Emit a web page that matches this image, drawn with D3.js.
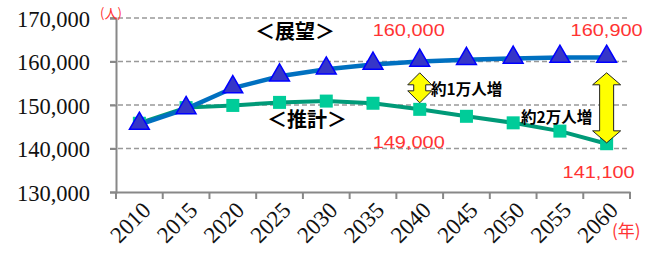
<!DOCTYPE html>
<html>
<head>
<meta charset="UTF-8">
<title>人口の展望と推計</title>
<script src="https://d3js.org/d3.v7.min.js"></script>
<style>
  body { margin: 0; background: #fff; }
  svg { display: block; }
</style>
</head>
<body>
<script>
// data
var years = ["2010","2015","2020","2025","2030","2035","2040","2045","2050","2055","2060"];
var outlook = [145500,149100,153900,156600,158200,159300,160000,160400,160700,160900,160900];   // 展望
var estimate = [145800,149400,149900,150600,150900,150400,149000,147400,145900,144000,141100]; // 推計
var yTicks = [130000,140000,150000,160000,170000];

// labels placed on points: [year, value text, x px offset, baseline]
var redLabels = [
  {year: "2040", text: "160,000", dx: -47, y: 36},
  {year: "2060", text: "160,900", dx: -36, y: 36},
  {year: "2040", text: "149,000", dx: -47, y: 148},
  {year: "2060", text: "141,100", dx: -44, y: 178}
];
// double arrows: year, from value, to value
var arrows = [
  {year: "2040", from: 157400, to: 150500, w: 24, head: 12, shaft: 12},
  {year: "2060", from: 157400, to: 141300, w: 28, head: 12, shaft: 14}
];

var W = 659, H = 257;
var svg = d3.select("body").append("svg").attr("width", W).attr("height", H);

var x = d3.scaleBand().domain(years).range([116, 630]);
var y = d3.scaleLinear().domain([130000, 170000]).range([192, 18]);
var cx = function(d) { return x(d) + x.bandwidth() / 2; };

// grid
svg.append("g").selectAll("line").data(yTicks.slice(1)).enter().append("line")
  .attr("x1", 110).attr("x2", 630)
  .attr("y1", function(d) { return y(d); }).attr("y2", function(d) { return y(d); })
  .attr("stroke", "#999").attr("stroke-width", 1.5).attr("stroke-dasharray", "5,3");

// y axis
var yAxis = d3.axisLeft(y).tickValues(yTicks).tickSize(6).tickFormat(d3.format(","));
var gy = svg.append("g").attr("transform", "translate(116,0)").call(yAxis);
gy.select(".domain").attr("stroke", "#888").attr("stroke-width", 2);
gy.selectAll(".tick line").attr("stroke", "#888").attr("stroke-width", 2);
gy.selectAll(".tick text")
  .attr("x", -26).attr("dy", "0.36em")
  .attr("fill", "#111")
  .style("font-family", "'Liberation Serif', 'Times New Roman', serif")
  .style("font-size", "22.5px");

// x axis
var xAxis = d3.axisBottom(x).tickSize(0);
var gx = svg.append("g").attr("transform", "translate(0,192)").call(xAxis);
gx.select(".domain").attr("stroke", "#888").attr("stroke-width", 2);
gx.selectAll(".tick text")
  .attr("text-anchor", "end")
  .attr("transform", "translate(7,14) rotate(-45)")
  .attr("x", 0).attr("y", 0).attr("dy", "0.35em")
  .attr("fill", "#111")
  .style("font-family", "'Liberation Serif', 'Times New Roman', serif")
  .style("font-size", "23px");
// ticks at band edges
svg.append("g").selectAll("line").data(years.concat(["end"])).enter().append("line")
  .attr("x1", function(d, i) { return i < years.length ? x(d) : x.range()[1]; })
  .attr("x2", function(d, i) { return i < years.length ? x(d) : x.range()[1]; })
  .attr("y1", 192).attr("y2", 199)
  .attr("stroke", "#888").attr("stroke-width", 2);

// lines
var line = d3.line().x(function(d, i) { return cx(years[i]); }).y(function(d) { return y(d); });

svg.append("path").attr("d", line(estimate))
  .attr("fill", "none").attr("stroke", "#009a78").attr("stroke-width", 4);
svg.append("g").selectAll("rect").data(estimate).enter().append("rect")
  .attr("x", function(d, i) { return cx(years[i]) - 6.5; })
  .attr("y", function(d) { return y(d) - 6.5; })
  .attr("width", 13).attr("height", 13)
  .attr("fill", "#00cc99");

svg.append("path").attr("d", line(outlook))
  .attr("fill", "none").attr("stroke", "#0070c0").attr("stroke-width", 4.5);
var tri = d3.symbol().type(d3.symbolTriangle).size(170);
svg.append("g").selectAll("path").data(outlook).enter().append("path")
  .attr("d", tri)
  .attr("transform", function(d, i) { return "translate(" + cx(years[i]) + "," + (y(d) - 1) + ")"; })
  .attr("fill", "#3636c8").attr("stroke", "#0000ff").attr("stroke-width", 1.5);

// double arrows
arrows.forEach(function(a) {
  var xc = cx(a.year), t = y(a.from), b = y(a.to), hw = a.w / 2, sw = a.shaft / 2;
  var p = [
    [xc, t], [xc + hw, t + a.head], [xc + sw, t + a.head], [xc + sw, b - a.head],
    [xc + hw, b - a.head], [xc, b], [xc - hw, b - a.head], [xc - sw, b - a.head],
    [xc - sw, t + a.head], [xc - hw, t + a.head]
  ];
  svg.append("path").attr("d", d3.line()(p) + "Z")
    .attr("fill", "#ffff00").attr("stroke", "#222").attr("stroke-width", 1);
});

var jp = "'Noto Sans CJK JP', 'Noto Sans', sans-serif";

// series names
svg.append("text").attr("x", 295).attr("y", 39).attr("text-anchor", "middle")
  .style("font-family", jp).style("font-size", "20px").style("font-weight", "bold")
  .text("＜展望＞");
svg.append("text").attr("x", 307).attr("y", 127).attr("text-anchor", "middle")
  .style("font-family", jp).style("font-size", "20px").style("font-weight", "bold")
  .text("＜推計＞");

// arrow notes
svg.append("text").attr("x", 431).attr("y", 95)
  .style("font-family", jp).style("font-size", "15.5px").style("font-weight", "bold")
  .text("約1万人増");
svg.append("text").attr("x", 521).attr("y", 123)
  .style("font-family", jp).style("font-size", "15.5px").style("font-weight", "bold")
  .text("約2万人増");

// red value labels
svg.append("g").selectAll("text").data(redLabels).enter().append("text")
  .attr("x", function(d) { return cx(d.year) + d.dx; })
  .attr("y", function(d) { return d.y; })
  .attr("fill", "#ff3333")
  .attr("textLength", 72).attr("lengthAdjust", "spacingAndGlyphs")
  .style("font-family", "'Liberation Sans', Arial, sans-serif").style("font-size", "16px")
  .text(function(d) { return d.text; });

// units
svg.append("text").attr("x", 100).attr("y", 18)
  .attr("fill", "#ff3333").style("font-family", jp).style("font-size", "13px")
  .text("(人)");
svg.append("text").attr("x", 612).attr("y", 237)
  .attr("fill", "#ff3333").style("font-family", jp).style("font-size", "17px")
  .text("(年)");
</script>
</body>
</html>
